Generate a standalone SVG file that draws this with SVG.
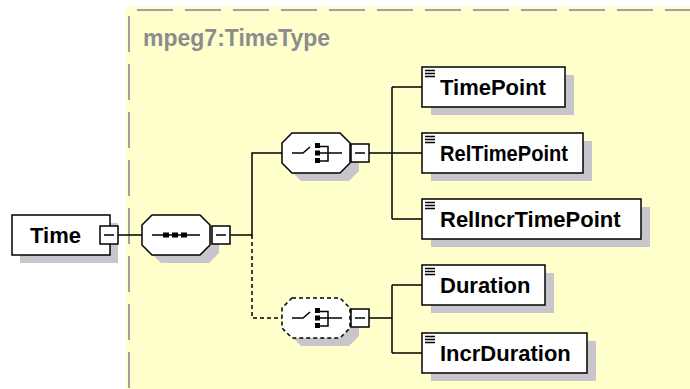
<svg xmlns="http://www.w3.org/2000/svg" width="690" height="389" viewBox="0 0 690 389">
<style>
.bg{fill:#ffffcc}
.frame{fill:none;stroke:#a0a0a0;stroke-width:2;stroke-dasharray:36 12}
.title{font-family:"Liberation Sans",Arial,sans-serif;font-weight:bold;font-size:23px;fill:#8c8c8c}
.box{fill:#fff;stroke:#000;stroke-width:1.5}
.dbox{fill:#fff;stroke:#000;stroke-width:1.5;stroke-dasharray:4 3}
.shadow{fill:#c8c6cc}
.lbl{font-family:"Liberation Sans",Arial,sans-serif;font-weight:bold;font-size:22px;fill:#000}
.ln{fill:none;stroke:#000;stroke-width:1.5}
.dl{fill:none;stroke:#000;stroke-width:1.5;stroke-dasharray:4 3}
.dot{fill:#000}
</style>
<defs>
<g id="doc"><path d="M3 3.5H13M3 6.5H13M3 9.5H13" stroke="#000" stroke-width="1.3"/></g>
<path id="oct" d="M10 0H58L68 10V30L58 40H10L0 30V10Z"/>
<g id="minus"><rect class="box" x="0" y="0" width="18" height="18"/><path d="M4 9H14" stroke="#000" stroke-width="1.5"/></g>
<g id="chsym"><path class="ln" d="M10 20H21L28 14M38 13.5H46V28H38M38 20H60"/><rect class="dot" x="33" y="10" width="5" height="5"/><rect class="dot" x="33" y="17.5" width="5" height="5"/><rect class="dot" x="33" y="25" width="5" height="5"/></g>
</defs>
<rect class="bg" x="126" y="7" width="564" height="382"/>
<path class="frame" d="M137 10H690"/>
<path class="frame" d="M129 16V389"/>
<text class="title" x="143" y="46">mpeg7:TimeType</text>
<g id="connectors">
<path class="ln" d="M118 235H142M230 235H252V153H282M369 153H392M392 87V219M392 87H422M392 153H422M392 219H422M369 318H392M392 285V353M392 285H422M392 353H422"/>
<path class="dl" d="M252 235V318H282"/>
</g>
<g id="Time">
<rect class="shadow" x="20" y="223" width="98" height="40"/>
<rect class="box" x="12" y="215" width="98" height="40"/>
<text class="lbl" x="30" y="243">Time</text>
<use href="#minus" x="100" y="226"/>
</g>
<g id="sequence">
<use href="#oct" class="shadow" x="151" y="223"/>
<use href="#oct" class="box" x="142" y="215"/>
<path class="ln" d="M152 235H200"/>
<rect class="dot" x="163" y="232.5" width="6" height="5"/>
<rect class="dot" x="172" y="232.5" width="6" height="5"/>
<rect class="dot" x="181" y="232.5" width="6" height="5"/>
<use href="#minus" x="212" y="226"/>
</g>
<g id="choice1">
<use href="#oct" class="shadow" x="291" y="141"/>
<use href="#oct" class="box" x="282" y="133"/>
<use href="#chsym" x="282" y="133"/>
<use href="#minus" x="351" y="144"/>
</g>
<g id="choice2">
<use href="#oct" class="shadow" x="291" y="306"/>
<use href="#oct" class="dbox" x="282" y="298"/>
<use href="#chsym" x="282" y="298"/>
<use href="#minus" x="351" y="309"/>
</g>
<g id="TimePoint">
<rect class="shadow" x="431" y="75" width="143" height="40"/>
<rect class="box" x="422" y="67" width="143" height="40"/>
<use href="#doc" x="422" y="67"/>
<text class="lbl" x="440" y="95">TimePoint</text>
</g>
<g id="RelTimePoint">
<rect class="shadow" x="431" y="141" width="161" height="40"/>
<rect class="box" x="422" y="133" width="161" height="40"/>
<use href="#doc" x="422" y="133"/>
<text class="lbl" x="440" y="161" textLength="128" lengthAdjust="spacingAndGlyphs">RelTimePoint</text>
</g>
<g id="RelIncrTimePoint">
<rect class="shadow" x="431" y="207" width="219" height="40"/>
<rect class="box" x="422" y="199" width="219" height="40"/>
<use href="#doc" x="422" y="199"/>
<text class="lbl" x="440" y="227">RelIncrTimePoint</text>
</g>
<g id="Duration">
<rect class="shadow" x="431" y="273" width="123" height="40"/>
<rect class="box" x="422" y="265" width="123" height="40"/>
<use href="#doc" x="422" y="265"/>
<text class="lbl" x="440" y="293">Duration</text>
</g>
<g id="IncrDuration">
<rect class="shadow" x="431" y="341" width="165" height="40"/>
<rect class="box" x="422" y="333" width="165" height="40"/>
<use href="#doc" x="422" y="333"/>
<text class="lbl" x="440" y="361">IncrDuration</text>
</g>
</svg>
